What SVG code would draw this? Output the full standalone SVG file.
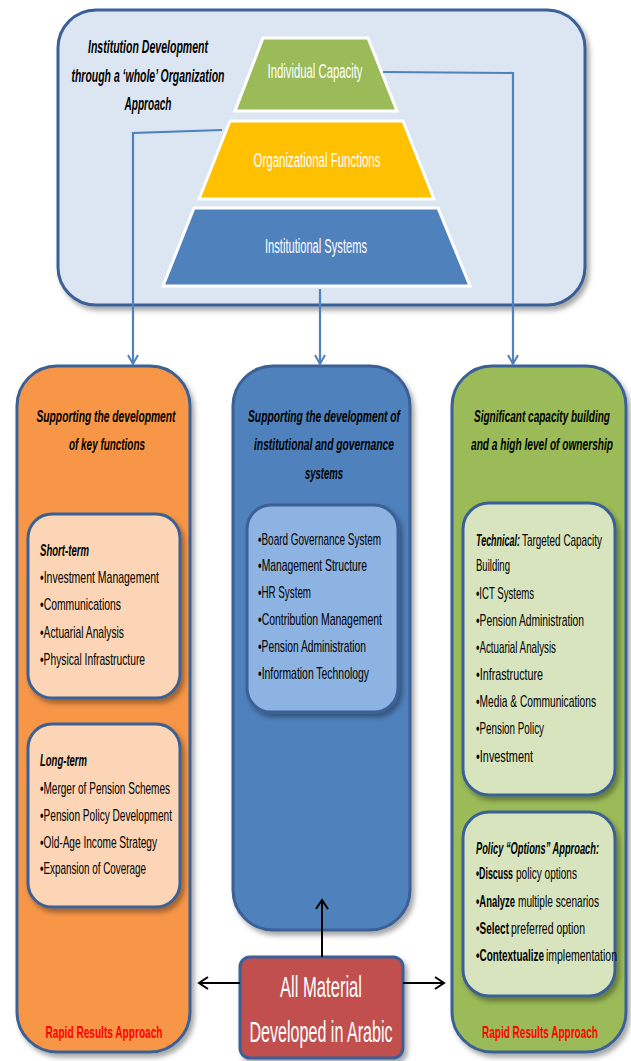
<svg xmlns="http://www.w3.org/2000/svg" width="631" height="1061" viewBox="0 0 631 1061">
<defs>
<filter id="sh" x="-10%" y="-10%" width="130%" height="130%"><feDropShadow dx="3" dy="4" stdDeviation="2.5" flood-color="#000" flood-opacity="0.35"/></filter>
<marker id="ab" markerWidth="12" markerHeight="12" refX="10" refY="6" orient="auto" markerUnits="userSpaceOnUse"><path d="M1,1 L10,6 L1,11" fill="none" stroke="#4f81bd" stroke-width="2"/></marker>
<marker id="ak" markerWidth="14" markerHeight="14" refX="11" refY="7" orient="auto" markerUnits="userSpaceOnUse"><path d="M2,1 L11,7 L2,13" fill="none" stroke="#000" stroke-width="2"/></marker>
</defs>
<style>
text{font-family:"Liberation Sans",Arial,sans-serif;fill:#000}
.t{font-size:17px;font-weight:bold;font-style:italic;text-anchor:middle}
.tt{font-size:19px;font-weight:bold;font-style:italic;text-anchor:middle}
.b{font-size:17px}
.bb{font-size:17px;font-weight:bold}
.h{font-size:17px;font-weight:bold;font-style:italic}
.w{fill:#fff;font-size:20px;text-anchor:middle}
.r{fill:#ff0000;font-size:17px;font-weight:bold;text-anchor:middle}
.box{stroke:#3a6095;stroke-width:3}
.pyr{stroke:#fff;stroke-width:3}
.con{fill:none;stroke:#4f81bd;stroke-width:2.2}
.kc{fill:none;stroke:#000;stroke-width:2}
</style>
<g id="top">
<rect x="58" y="10" width="527" height="295" rx="38" fill="#dce6f2" class="box" filter="url(#sh)"/>
<text class="tt" x="148" y="53" textLength="120" lengthAdjust="spacingAndGlyphs">Institution Development</text>
<text class="tt" x="148" y="82" textLength="153" lengthAdjust="spacingAndGlyphs">through a ‘whole’ Organization</text>
<text class="tt" x="148" y="110" textLength="47" lengthAdjust="spacingAndGlyphs">Approach</text>
</g>
<g id="individual">
<polygon class="pyr" points="263,38 368,38 397,111 235,111" fill="#9bbb59"/>
<text class="w" x="315" y="78" textLength="95" lengthAdjust="spacingAndGlyphs">Individual Capacity</text>
</g>
<g id="organizational">
<polygon class="pyr" points="230,121 403,121 434,199 199,199" fill="#ffc000"/>
<text class="w" x="317" y="167" textLength="127" lengthAdjust="spacingAndGlyphs">Organizational Functions</text>
</g>
<g id="institutional">
<polygon class="pyr" points="194,208 438,208 470,286 163,286" fill="#4f81bd"/>
<text class="w" x="316" y="253" textLength="102" lengthAdjust="spacingAndGlyphs">Institutional Systems</text>
</g>
<g id="left">
<rect x="17" y="366" width="173" height="686" rx="40" fill="#f79646" class="box" filter="url(#sh)"/>
<text class="t" x="106" y="422" textLength="139" lengthAdjust="spacingAndGlyphs">Supporting the development</text>
<text class="t" x="107" y="450" textLength="76" lengthAdjust="spacingAndGlyphs">of key functions</text>
<text class="r" x="104" y="1038" textLength="117" lengthAdjust="spacingAndGlyphs">Rapid Results Approach</text>
</g>
<g id="shortterm">
<rect x="28" y="514" width="152" height="184" rx="24" fill="#fbd5b5" class="box" filter="url(#sh)"/>
<text class="h" x="40" y="556" textLength="49" lengthAdjust="spacingAndGlyphs">Short-term</text>
<text class="b" x="40" y="583" textLength="119" lengthAdjust="spacingAndGlyphs">•Investment Management</text>
<text class="b" x="40" y="610" textLength="81" lengthAdjust="spacingAndGlyphs">•Communications</text>
<text class="b" x="40" y="638" textLength="84" lengthAdjust="spacingAndGlyphs">•Actuarial Analysis</text>
<text class="b" x="40" y="665" textLength="105" lengthAdjust="spacingAndGlyphs">•Physical Infrastructure</text>
</g>
<g id="longterm">
<rect x="28" y="724" width="152" height="183" rx="24" fill="#fbd5b5" class="box" filter="url(#sh)"/>
<text class="h" x="40" y="766" textLength="47" lengthAdjust="spacingAndGlyphs">Long-term</text>
<text class="b" x="40" y="794" textLength="130" lengthAdjust="spacingAndGlyphs">•Merger of Pension Schemes</text>
<text class="b" x="40" y="821" textLength="132" lengthAdjust="spacingAndGlyphs">•Pension Policy Development</text>
<text class="b" x="40" y="848" textLength="117" lengthAdjust="spacingAndGlyphs">•Old-Age Income Strategy</text>
<text class="b" x="40" y="874" textLength="106" lengthAdjust="spacingAndGlyphs">•Expansion of Coverage</text>
</g>
<g id="middle">
<rect x="233" y="366" width="177" height="564" rx="40" fill="#4f81bd" class="box" filter="url(#sh)"/>
<text class="t" x="324" y="422" textLength="152" lengthAdjust="spacingAndGlyphs">Supporting the development of</text>
<text class="t" x="324" y="450" textLength="140" lengthAdjust="spacingAndGlyphs">institutional and governance</text>
<text class="t" x="324" y="479" textLength="38" lengthAdjust="spacingAndGlyphs">systems</text>
</g>
<g id="systems">
<rect x="247" y="505" width="151" height="207" rx="24" fill="#8db3e2" class="box" filter="url(#sh)"/>
<text class="b" x="258" y="545" textLength="123" lengthAdjust="spacingAndGlyphs">•Board Governance System</text>
<text class="b" x="258" y="571" textLength="109" lengthAdjust="spacingAndGlyphs">•Management Structure</text>
<text class="b" x="258" y="598" textLength="53" lengthAdjust="spacingAndGlyphs">•HR System</text>
<text class="b" x="258" y="625" textLength="124" lengthAdjust="spacingAndGlyphs">•Contribution Management</text>
<text class="b" x="258" y="652" textLength="108" lengthAdjust="spacingAndGlyphs">•Pension Administration</text>
<text class="b" x="258" y="679" textLength="111" lengthAdjust="spacingAndGlyphs">•Information Technology</text>
</g>
<g id="right">
<rect x="452" y="366" width="174" height="686" rx="40" fill="#9bbb59" class="box" filter="url(#sh)"/>
<text class="t" x="542" y="422" textLength="136" lengthAdjust="spacingAndGlyphs">Significant capacity building</text>
<text class="t" x="542" y="450" textLength="142" lengthAdjust="spacingAndGlyphs">and a high level of ownership</text>
<text class="r" x="540" y="1038" textLength="116" lengthAdjust="spacingAndGlyphs">Rapid Results Approach</text>
</g>
<g id="technical">
<rect x="463" y="503" width="152" height="292" rx="26" fill="#d7e4bd" class="box" filter="url(#sh)"/>
<text class="h" x="476" y="546" textLength="44" lengthAdjust="spacingAndGlyphs">Technical:</text>
<text class="b" x="522" y="546" textLength="80" lengthAdjust="spacingAndGlyphs">Targeted Capacity</text>
<text class="b" x="476" y="571" textLength="34" lengthAdjust="spacingAndGlyphs">Building</text>
<text class="b" x="476" y="599" textLength="58" lengthAdjust="spacingAndGlyphs">•ICT Systems</text>
<text class="b" x="476" y="626" textLength="108" lengthAdjust="spacingAndGlyphs">•Pension Administration</text>
<text class="b" x="476" y="653" textLength="80" lengthAdjust="spacingAndGlyphs">•Actuarial Analysis</text>
<text class="b" x="476" y="680" textLength="67" lengthAdjust="spacingAndGlyphs">•Infrastructure</text>
<text class="b" x="476" y="707" textLength="120" lengthAdjust="spacingAndGlyphs">•Media &amp; Communications</text>
<text class="b" x="476" y="734" textLength="68" lengthAdjust="spacingAndGlyphs">•Pension Policy</text>
<text class="b" x="476" y="762" textLength="57" lengthAdjust="spacingAndGlyphs">•Investment</text>
</g>
<g id="policy">
<rect x="463" y="812" width="152" height="184" rx="26" fill="#d7e4bd" class="box" filter="url(#sh)"/>
<text class="h" x="476" y="854" textLength="123" lengthAdjust="spacingAndGlyphs">Policy “Options” Approach:</text>
<text class="bb" x="476" y="879" textLength="37" lengthAdjust="spacingAndGlyphs">•Discuss</text>
<text class="b" x="516" y="879" textLength="61" lengthAdjust="spacingAndGlyphs">policy options</text>
<text class="bb" x="476" y="907" textLength="39" lengthAdjust="spacingAndGlyphs">•Analyze</text>
<text class="b" x="518" y="907" textLength="81" lengthAdjust="spacingAndGlyphs">multiple scenarios</text>
<text class="bb" x="476" y="934" textLength="33" lengthAdjust="spacingAndGlyphs">•Select</text>
<text class="b" x="511" y="934" textLength="74" lengthAdjust="spacingAndGlyphs">preferred option</text>
<text class="bb" x="476" y="961" textLength="68" lengthAdjust="spacingAndGlyphs">•Contextualize</text>
<text class="b" x="546" y="961" textLength="71" lengthAdjust="spacingAndGlyphs">implementation</text>
</g>
<g id="arabic">
<rect x="240" y="957" width="163" height="101" rx="10" fill="#c0504d" class="box" filter="url(#sh)"/>
<text class="w" x="321" y="997" style="font-size:29px" textLength="82" lengthAdjust="spacingAndGlyphs">All Material</text>
<text class="w" x="321" y="1042" style="font-size:29px" textLength="143" lengthAdjust="spacingAndGlyphs">Developed in Arabic</text>
</g>
<g id="connectors">
<polyline class="con" points="222,130 133,133 133,364" marker-end="url(#ab)"/>
<line class="con" x1="320" y1="289" x2="320" y2="364" marker-end="url(#ab)"/>
<polyline class="con" points="383,72 513,73 513,364" marker-end="url(#ab)"/>
<line class="kc" x1="322" y1="957" x2="322" y2="900" marker-end="url(#ak)"/>
<line class="kc" x1="240" y1="983" x2="199" y2="983" marker-end="url(#ak)"/>
<line class="kc" x1="403" y1="983" x2="444" y2="983" marker-end="url(#ak)"/>
</g>
</svg>
